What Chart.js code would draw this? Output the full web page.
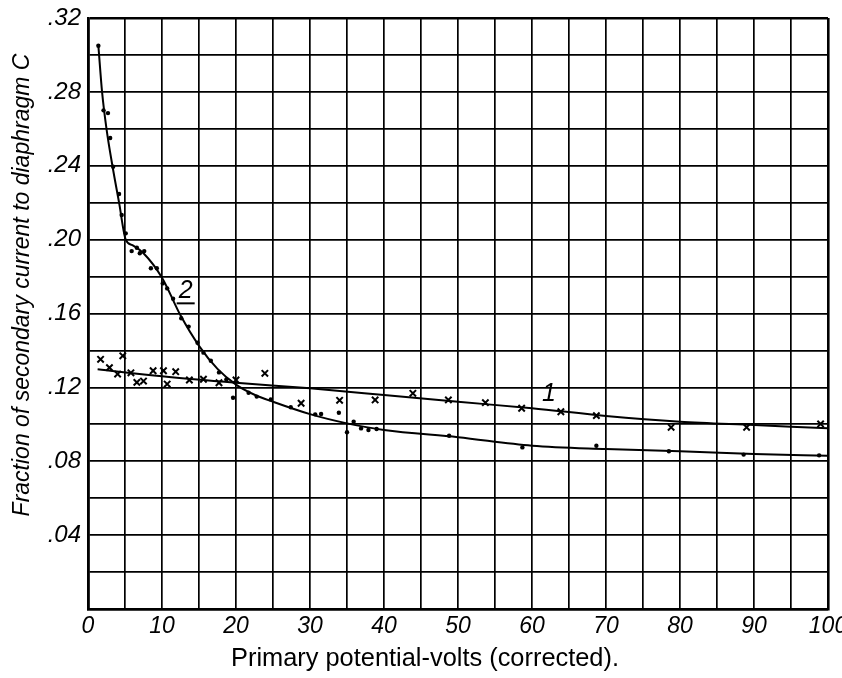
<!DOCTYPE html>
<html>
<head>
<meta charset="utf-8">
<script src="https://cdn.jsdelivr.net/npm/chart.js@4"></script>
<style>
  html, body { margin: 0; padding: 0; background: #fff; }
  #wrap { width: 842px; height: 678px; }
</style>
</head>
<body>
<div id="wrap"><canvas id="chart" width="842" height="678"></canvas></div>
<script>
// Curve 2 – observed points (dots)
const dotX = [1.4, 2.1, 2.7, 3.0, 3.4, 4.2, 4.55, 5.1, 5.9, 6.6, 7.0, 7.6, 8.5, 9.3, 10.1, 10.7, 11.5,
  12.6, 13.6, 14.8, 15.6, 16.6, 17.7, 18.7, 19.6, 21.7, 22.8, 24.7, 27.4, 30.7, 31.5, 33.9, 35.0,
  35.9, 36.9, 37.9, 39.0, 48.8, 58.7, 68.7, 78.5, 88.6, 98.8];
const dotY = [0.305, 0.270, 0.2685, 0.255, 0.2395, 0.2247, 0.2133, 0.2034, 0.1938, 0.1956, 0.1926, 0.1938, 0.1845, 0.1845, 0.1763, 0.1736, 0.168,
  0.1574, 0.1529, 0.1442, 0.1388, 0.1344, 0.1281, 0.1243, 0.1144, 0.1171, 0.1150, 0.1135, 0.1092, 0.1054, 0.1056, 0.1063, 0.0957,
  0.1014, 0.0978, 0.0969, 0.0975, 0.0938, 0.0875, 0.0884, 0.0854, 0.0836, 0.0832];

// Curve 1 – observed points (crosses)
const crossX = [1.7, 2.9, 4.0, 4.7, 5.8, 6.6, 7.5, 8.8, 10.2, 10.7, 11.85, 13.7, 15.6, 17.7, 20.0, 23.9,
  28.8, 34.0, 38.8, 43.9, 48.7, 53.7, 58.6, 63.9, 68.7, 78.8, 89.0, 99.0];
const crossY = [0.1352, 0.1307, 0.1272, 0.1371, 0.1279, 0.1227, 0.1234, 0.1290, 0.1290, 0.1218, 0.1285, 0.1240, 0.1244, 0.1225, 0.1240, 0.1276,
  0.1114, 0.1130, 0.1132, 0.1168, 0.1132, 0.1117, 0.1087, 0.1068, 0.1047, 0.0984, 0.0984, 0.1002];

// Drawn curves
const line2X = [1.4, 1.9, 2.5, 3.3, 4.2, 5.1, 6.0, 7.5, 10, 12.5, 15, 17.5, 20, 22.5, 25, 30, 35, 40, 50, 60, 70, 80, 90, 100];
const line2Y = [0.305, 0.28, 0.26, 0.24, 0.22, 0.200, 0.197, 0.1926, 0.1794, 0.159, 0.1425, 0.130, 0.1215, 0.116, 0.1122, 0.1055, 0.1005, 0.0969, 0.093, 0.0884, 0.0866, 0.0854, 0.0839, 0.083];
const line1X = [1.3, 10, 20, 30, 40, 50, 60, 70, 80, 90, 100];
const line1Y = [0.1298, 0.126, 0.1225, 0.1195, 0.1159, 0.1122, 0.1087, 0.1045, 0.1014, 0.0996, 0.0978];

const xTitle = 'Primary potential-volts (corrected).';
const yTitle = 'Fraction of secondary current to diaphragm C';

const pts = (xs, ys) => xs.map((x, i) => ({ x, y: ys[i] }));

// Axis titles and curve numbers
const annot = {
    id: 'annot',
    afterDraw(chart) {
        const { ctx, scales: { x, y } } = chart;
        ctx.save();
        ctx.fillStyle = '#000';
        ctx.strokeStyle = '#000';
        ctx.textAlign = 'center';
        ctx.textBaseline = 'middle';

        ctx.font = '26px "Liberation Sans", sans-serif';
        ctx.fillText(xTitle, 425, 659, 388);

        ctx.save();
        ctx.translate(23, 285);
        ctx.rotate(-Math.PI / 2);
        ctx.font = 'italic 23px "Liberation Sans", sans-serif';
        ctx.fillText(yTitle, 0, 0, 540);
        ctx.restore();

        ctx.font = 'italic 25px "Liberation Sans", sans-serif';
        const px2 = x.getPixelForValue(13.2), py2 = y.getPixelForValue(0.172);
        ctx.fillText('2', px2, py2);
        ctx.lineWidth = 2;
        ctx.beginPath();
        ctx.moveTo(px2 - 9, py2 + 12);
        ctx.lineTo(px2 + 9, py2 + 12);
        ctx.stroke();
        ctx.fillText('1', x.getPixelForValue(62.3), y.getPixelForValue(0.1165));
        ctx.restore();
    }
};

const edgeWidth = (v, lo, hi) => (Math.abs(v - lo) < 1e-9 || Math.abs(v - hi) < 1e-9) ? 2.6 : 1.7;

new Chart(document.getElementById('chart').getContext('2d'), {
    type: 'scatter',
    data: {
        datasets: [
            {
                data: pts(line2X, line2Y),
                showLine: true,
                borderColor: '#000',
                borderWidth: 2,
                pointRadius: 0,
                cubicInterpolationMode: 'monotone'
            },
            {
                data: pts(line1X, line1Y),
                showLine: true,
                borderColor: '#000',
                borderWidth: 2,
                pointRadius: 0,
                cubicInterpolationMode: 'monotone'
            },
            {
                data: pts(dotX, dotY),
                pointStyle: 'circle',
                pointRadius: 2.2,
                backgroundColor: '#000',
                borderColor: '#000',
                borderWidth: 0
            },
            {
                data: pts(crossX, crossY),
                pointStyle: 'crossRot',
                pointRadius: 4.5,
                borderColor: '#000',
                borderWidth: 2
            }
        ]
    },
    options: {
        responsive: false,
        animation: false,
        layout: { padding: { top: 18, right: 14, left: 0, bottom: 0 } },
        plugins: { legend: { display: false }, tooltip: { enabled: false } },
        scales: {
            x: {
                type: 'linear',
                min: 0,
                max: 100,
                ticks: {
                    stepSize: 5,
                    autoSkip: false,
                    maxRotation: 0,
                    padding: 4,
                    color: '#000',
                    font: { family: '"Liberation Sans", sans-serif', style: 'italic', size: 23 },
                    callback: v => (v % 10 === 0 ? v : '')
                },
                grid: {
                    color: '#000',
                    drawTicks: false,
                    lineWidth: c => edgeWidth(c.tick.value, 0, 100)
                },
                border: { display: true, color: '#000', width: 2.6 },
                afterFit: s => { s.height = 69; s.paddingRight = 0; s.paddingLeft = 0; }
            },
            y: {
                min: 0,
                max: 0.32,
                ticks: {
                    stepSize: 0.02,
                    autoSkip: false,
                    padding: 7,
                    color: '#000',
                    font: { family: '"Liberation Sans", sans-serif', style: 'italic', size: 24 },
                    callback: v => {
                        const k = Math.round(v * 100);
                        return (k > 0 && k % 4 === 0) ? '.' + String(k).padStart(2, '0') : '';
                    }
                },
                grid: {
                    color: '#000',
                    drawTicks: false,
                    lineWidth: c => edgeWidth(c.tick.value, 0, 0.32)
                },
                border: { display: true, color: '#000', width: 2.6 },
                afterFit: s => { s.width = 88; s.paddingTop = 0; s.paddingBottom = 0; }
            }
        }
    },
    plugins: [annot]
});
</script>
</body>
</html>
